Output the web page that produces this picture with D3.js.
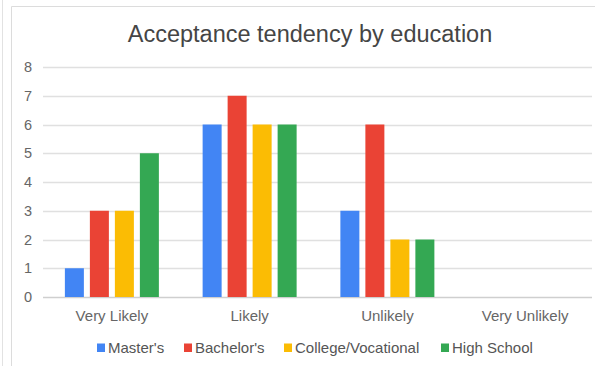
<!DOCTYPE html>
<html>
<head>
<meta charset="utf-8">
<script src="https://cdn.jsdelivr.net/npm/d3@7"></script>
<style>
  html, body { margin: 0; padding: 0; background: #fff; }
  svg { display: block; font-family: "Liberation Sans", Arial, sans-serif; }
</style>
</head>
<body>
<svg id="chart" width="595" height="366"></svg>
<script>
// Chart data
const categories = ["Very Likely", "Likely", "Unlikely", "Very Unlikely"];
const seriesNames = ["Master's", "Bachelor's", "College/Vocational", "High School"];
const masters = [1, 6, 3, 0];
const bachelors = [3, 7, 6, 0];
const college = [3, 6, 2, 0];
const highSchool = [5, 6, 2, 0];
const yTicks = [0, 1, 2, 3, 4, 5, 6, 7, 8];
const seriesValues = [masters, bachelors, college, highSchool];
const colors = ["#4285F4", "#EA4335", "#FBBC04", "#34A853"];

const svg = d3.select("#chart");
const W = 595, H = 366;

// Frame lines
svg.append("line").attr("x1", 2.5).attr("x2", 2.5).attr("y1", 0).attr("y2", H)
  .attr("stroke", "#e2e2e2").attr("stroke-width", 1);
svg.append("path").attr("d", `M11.5,${H} V6.5 H${W}`)
  .attr("fill", "none").attr("stroke", "#dcdcdc").attr("stroke-width", 1);

// Title
svg.append("text").attr("x", 310).attr("y", 42).attr("text-anchor", "middle")
  .attr("font-size", 23.5).attr("fill", "#454545")
  .text("Acceptance tendency by education");

const plot = { left: 43, right: 594, top: 67, bottom: 297 };

const x0 = d3.scaleBand().domain(categories).range([plot.left, plot.right]).paddingInner(0).paddingOuter(0);
const x1 = d3.scaleBand().domain(seriesNames).range([0, 94]).paddingInner(0.24).paddingOuter(0);
const y = d3.scaleLinear().domain([0, 8]).range([plot.bottom, plot.top]);

// Gridlines
svg.append("g").selectAll("line").data(yTicks).join("line")
  .attr("x1", plot.left).attr("x2", plot.right - 2)
  .attr("y1", d => Math.round(y(d)) + 0.5).attr("y2", d => Math.round(y(d)) + 0.5)
  .attr("stroke", d => d === 0 ? "#cfcfcf" : "#e0e0e0").attr("stroke-width", 1.3);

// Y axis labels
const yAxis = d3.axisLeft(y).tickValues(yTicks).tickSize(0).tickPadding(0).tickFormat(d3.format("d"));
const yg = svg.append("g").attr("transform", `translate(${plot.left - 11},0)`).call(yAxis);
yg.select(".domain").remove();
yg.selectAll("text").attr("font-size", 14.5).attr("fill", "#666")
  .attr("font-family", "'Liberation Sans', Arial, sans-serif").attr("text-anchor", "middle")
  .attr("x", -4);

// Bars
const groups = svg.append("g").selectAll("g").data(categories).join("g")
  .attr("transform", d => `translate(${x0(d) + x0.bandwidth() / 2 - 47},0)`);
groups.selectAll("rect")
  .data((c, i) => seriesNames.map((s, j) => ({ s, j, v: seriesValues[j][i] })))
  .join("rect")
  .attr("x", d => x1(d.s))
  .attr("width", x1.bandwidth())
  .attr("y", d => y(d.v))
  .attr("height", d => y(0) - y(d.v))
  .attr("fill", d => colors[d.j]);

// X axis labels
const xAxis = d3.axisBottom(x0).tickSize(0).tickPadding(0);
const xg = svg.append("g").attr("transform", `translate(0,${plot.bottom + 24})`).call(xAxis);
xg.select(".domain").remove();
xg.selectAll("text").attr("font-size", 15).attr("fill", "#666")
  .attr("font-family", "'Liberation Sans', Arial, sans-serif").attr("dy", 0);

// Legend
const legendX = [97, 184, 284, 441];
const legend = svg.append("g").selectAll("g").data(seriesNames).join("g")
  .attr("transform", (d, i) => `translate(${legendX[i]},348)`);
legend.append("rect").attr("x", 0).attr("y", -4.5).attr("width", 8).attr("height", 8.5)
  .attr("fill", (d, i) => colors[i]);
legend.append("text").attr("x", 11).attr("y", 5).attr("font-size", 15).attr("fill", "#555")
  .text(d => d);
</script>
</body>
</html>
